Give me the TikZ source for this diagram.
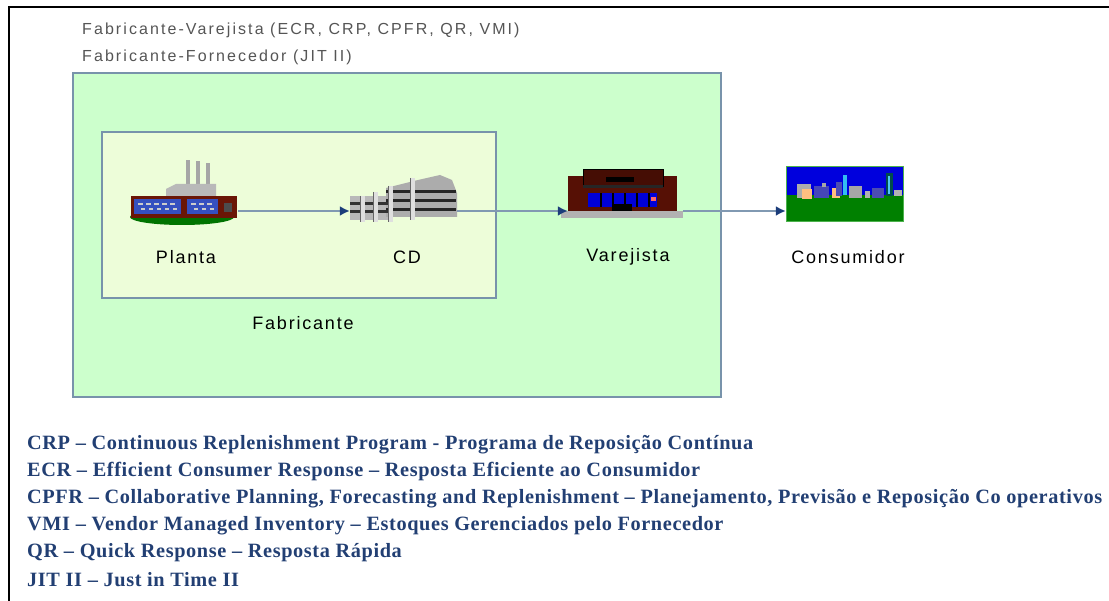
\documentclass[tikz,border=0pt]{standalone}
\usepackage{fontspec}
\setmainfont{Liberation Serif}
\newfontfamily\labelfont[LetterSpace=10]{Liberation Sans}
\newfontfamily\topfont[LetterSpace=13]{Liberation Sans}
\newfontfamily\legendfont[LetterSpace=3]{Liberation Serif}
\usetikzlibrary{arrows.meta}
\definecolor{outerfill}{HTML}{CCFFCC}
\definecolor{innerfill}{HTML}{EDFDD9}
\definecolor{boxline}{HTML}{7893AB}
\definecolor{flowline}{HTML}{8199B2}
\definecolor{tipnavy}{HTML}{1B3D7A}
\definecolor{legendnavy}{HTML}{223F73}
\definecolor{toptext}{HTML}{555555}
\definecolor{brick}{HTML}{6A1606}
\definecolor{storebrown}{HTML}{561005}
\definecolor{winblue}{HTML}{3550C0}
\definecolor{skyblue}{HTML}{0000DD}
\definecolor{grass}{HTML}{008000}
\tikzset{
  region/.style={draw=boxline, line width=1.6pt},
  iconbox/.style={inner sep=0pt, draw=none, rectangle},
  flow/.style={draw=flowline, line width=2.4pt, -{Latex[color=tipnavy,length=10pt,width=10pt]}},
  caption/.style={font=\labelfont\fontsize{18}{20}\selectfont, text=black, inner sep=0pt},
  headline/.style={font=\topfont\fontsize{16}{18}\selectfont, text=toptext, anchor=west, inner sep=0pt},
  legend/.style={font=\legendfont\bfseries\fontsize{20.3}{22}\selectfont, text=legendnavy, anchor=west, inner sep=0pt}
}
\begin{document}
\begin{tikzpicture}[x=1pt,y=-1pt]
\path[use as bounding box] (0,0) rectangle (1109,601);
\fill[white] (0,0) rectangle (1109,601);
% frame
\draw[black, line width=2.4pt] (9,601) -- (9,7) -- (1109,7);

% headings
\node[headline] (h1) at (82,30) {Fabricante-Varejista (ECR, CRP, CPFR, QR, VMI)};
\node[headline] (h2) at (82,57) {Fabricante-Fornecedor (JIT II)};

% regions
\draw[region, fill=outerfill] (73,73) rectangle (721,397);
\draw[region, fill=innerfill] (102,132) rectangle (496,298);

% icon anchors
\node[iconbox, minimum width=108pt, minimum height=22pt] (planta) at (184,211) {};
\node[iconbox, minimum width=107pt, minimum height=22pt] (cd) at (403.5,211) {};
\node[iconbox, minimum width=115pt, minimum height=22pt] (varejista) at (625.5,211) {};
\node[iconbox, minimum width=117pt, minimum height=22pt] (consumidor) at (844.5,211) {};

% factory
\fill[green!45!black] (182,217) ellipse [x radius=52, y radius=8];
\fill[gray!70] (186,160) rectangle (190,196);
\fill[gray!70] (196,161) rectangle (200,196);
\fill[gray!70] (206,163) rectangle (210,196);
\fill[gray!55] (166,189) -- (176,184) -- (216,184) -- (216,197) -- (166,197) -- cycle;
\fill[brick] (131,196) rectangle (237,218);
\fill[winblue] (134,199) rectangle (181,214);
\fill[winblue] (187,199) rectangle (218,214);
\foreach \xx in {138,146,154,162,170,191,199,207} {
  \fill[gray!40] (\xx,203) rectangle ++(5,2);
  \fill[gray!40] (\xx+3,208) rectangle ++(4,2);
}
\fill[black!70] (224,203) rectangle (232,212);

% distribution centre
\fill[gray!55] (350,196) rectangle (388,220);
\fill[gray!65] (386,188) -- (418,180) -- (440,175) -- (452,180) -- (457,193) -- (457,217) -- (386,217) -- cycle;
\foreach \yy in {190,199,208} {
  \fill[black!85] (386,\yy) rectangle (456,\yy+3.5);
}
\foreach \yy in {202,210} {
  \fill[black!80] (350,\yy) rectangle (388,\yy+3);
}
\foreach \xx/\ya/\hh in {360/196/26,373/192/30,388/186/36,410/178/42} {
  \fill[gray!25] (\xx,\ya) rectangle ++(5,\hh);
  \draw[black!60, line width=0.6pt] (\xx,\ya) -- ++(0,\hh);
}

% store
\fill[gray!60] (561,211) rectangle (683,218);
\fill[storebrown] (568,176) rectangle (677,211);
\fill[storebrown!80!black] (583,170) rectangle (663,187);
\draw[black, line width=1pt] (583,187) -- (583,170) -- (663,170) -- (663,187);
\fill[black] (606,177) rectangle (634,182);
\fill[black!85] (583,185) rectangle (663,188);
\fill[blue!85!black] (588,193) rectangle (657,207);
\foreach \xx in {600,612,624,636,648} {
  \fill[black] (\xx,193) rectangle ++(1.6,14);
}
\fill[black] (612,204) rectangle (632,211);
\fill[red!60!white] (651,197) rectangle (656,201);

% consumer skyline
\fill[skyblue] (786,166) rectangle (903,196);
\fill[grass] (786,195) rectangle (903,221);
\fill[gray!65] (797,184) rectangle (811,198);
\fill[orange!50!white] (802,189) rectangle (812,199);
\fill[blue!45!gray] (814,186) rectangle (829,198);
\fill[gray!70] (822,183) rectangle (826,187);
\fill[orange!50!white] (832,188) rectangle (840,198);
\fill[blue!40!gray] (836,182) rectangle (842,196);
\fill[cyan!80] (843,175) rectangle (847,195);
\fill[gray!70] (849,186) rectangle (862,198);
\fill[gray!60] (865,191) rectangle (870,198);
\fill[blue!40!gray] (872,188) rectangle (884,198);
\fill[teal!60!black] (886,173) rectangle (893,196);
\fill[cyan!70] (888,176) rectangle (890,194);
\fill[gray!60] (894,190) rectangle (902,196);
\draw[green!40!gray, line width=0.8pt] (786,166) rectangle (903,221);

% connectors
\draw[flow] (planta.east) -- (cd.west);
\draw[flow] (cd.east) -- (varejista.west);
\draw[flow] (varejista.east) -- (consumidor.west);

% captions
\node[caption] (lplanta) at (186,257) {Planta};
\node[caption] (lcd) at (407,257) {CD};
\node[caption] (lvarejista) at (628,257) {Varejista};
\node[caption] (lconsumidor) at (848,257) {Consumidor};
\node[caption] (lfabricante) at (303,323) {Fabricante};

% legend
\node[legend] (l1) at (27,445) {CRP – Continuous Replenishment Program - Programa de Reposição Contínua};
\node[legend] (l2) at (27,472) {ECR – Efficient Consumer Response – Resposta Eficiente ao Consumidor};
\node[legend] (l3) at (27,499) {CPFR – Collaborative Planning, Forecasting and Replenishment – Planejamento, Previsão e Reposição Co operativos};
\node[legend] (l4) at (27,526) {VMI – Vendor Managed Inventory – Estoques Gerenciados pelo Fornecedor};
\node[legend] (l5) at (27,553) {QR – Quick Response – Resposta Rápida};
\node[legend] (l6) at (27,580) {JIT II – Just in Time II};
\end{tikzpicture}
\end{document}
